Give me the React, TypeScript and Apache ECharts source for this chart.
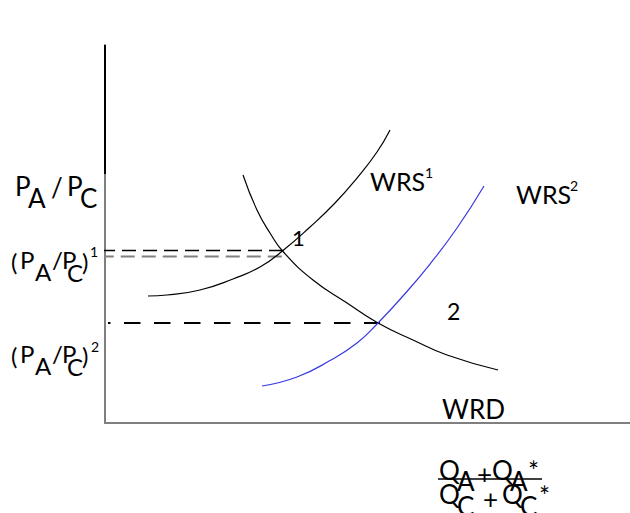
import React, { useEffect, useRef } from "react";
import * as echarts from "echarts";

// Curves (x = quantity ratio, y = price ratio, arbitrary units 0..10)
const wrs1: [number, number][] = [
  [0.819, 3.36], [1.181, 3.386], [1.81, 3.519], [2.438, 3.81], [2.952, 4.127],
  [3.39, 4.563], [3.905, 5.185], [4.381, 5.82], [4.8, 6.481], [5.181, 7.169], [5.429, 7.751],
];
const wrd: [number, number][] = [
  [2.629, 6.561], [2.895, 5.635], [3.143, 5.026], [3.39, 4.537], [3.962, 3.783],
  [4.61, 3.175], [5.2, 2.646], [5.867, 2.196], [6.514, 1.799], [7.486, 1.402],
];
const wrs2: [number, number][] = [
  [2.99, 0.979], [3.657, 1.217], [4.286, 1.653], [4.8, 2.116], [5.2, 2.646],
  [5.676, 3.36], [6.19, 4.206], [6.705, 5.159], [7.219, 6.27],
];
// equilibrium guide lines
const guide1: [number, number][] = [[-0.076, 4.563], [3.39, 4.563]];
const guide1b: [number, number][] = [[-0.1, 4.405], [3.43, 4.405]];
const guide2: [number, number][] = [[0.057, 2.646], [5.238, 2.646]];
const axisTop: [number, number][] = [[0, 6.587], [0, 10]];

const FONT = "Lato, 'Liberation Sans', sans-serif";

function T(text: string, x: number, baseline: number, size: number, color = "#000") {
  return {
    type: "text",
    x,
    y: baseline - 0.36 * size,
    silent: true,
    style: {
      text,
      font: `${size}px ${FONT}`,
      fill: color,
      align: "left",
      textAlign: "left",
      verticalAlign: "middle",
      textVerticalAlign: "middle",
    },
  };
}

export default function App() {
  const ref = useRef<HTMLDivElement>(null);
  useEffect(() => {
    if (!ref.current) return;
    const chart = echarts.init(ref.current, undefined, { renderer: "svg" });
    const line = (data: [number, number][], color: string, width: number, type: any = "solid", dashOffset = 0) => ({
      type: "line",
      data,
      smooth: true,
      symbol: "none",
      clip: false,
      silent: true,
      lineStyle: { color, width, type, dashOffset },
    });
    chart.setOption({
      animation: false,
      grid: { left: 105, top: 45, right: 0, bottom: 90, containLabel: false },
      xAxis: {
        type: "value", min: 0, max: 10,
        axisLine: { show: true, onZero: false, lineStyle: { color: "#7f7f7f", width: 2 } },
        axisTick: { show: false }, axisLabel: { show: false }, splitLine: { show: false },
      },
      yAxis: {
        type: "value", min: 0, max: 10,
        axisLine: { show: true, onZero: false, lineStyle: { color: "#7f7f7f", width: 2 } },
        axisTick: { show: false }, axisLabel: { show: false }, splitLine: { show: false },
      },
      series: [
        { ...line(axisTop, "#000", 2), smooth: false },
        { ...line(guide1, "#000", 1.5, [14, 7]), smooth: false },
        { ...line(guide1b, "#808080", 2, [14, 7]), smooth: false },
        { ...line(guide2, "#000", 2, [16.5, 13.5], 13.5), smooth: false },
        line(wrs1, "#000", 1.2),
        line(wrd, "#000", 1.2),
        line(wrs2, "#3838e0", 1.2),
      ],
      graphic: [
        T("P", 15, 195, 26), T("A", 28, 207, 26), T("/", 51, 196, 26), T("P", 67, 195, 26), T("C", 80, 207, 26),
        T("(", 11, 270, 24), T("P", 20, 268, 24), T("A", 35, 280, 24), T("/", 52, 268, 24), T("P", 62, 268, 24), T("C", 67, 281, 24), T(")", 82, 270, 24), T("1", 90, 257, 14),
        T("(", 11, 364, 24), T("P", 20, 362, 24), T("A", 35, 374, 24), T("/", 52, 362, 24), T("P", 62, 362, 24), T("C", 67, 375, 24), T(")", 82, 364, 24), T("2", 91, 352, 14),
        T("WRS", 370, 190, 25), T("1", 425, 178, 14),
        T("WRS", 516, 203, 25), T("2", 570, 191, 14),
        T("1", 292, 245, 22), T("2", 447, 319, 23),
        T("WRD", 442, 418, 26),
        T("Q", 439, 479, 26), T("A", 457, 490, 26), T("+", 477, 483, 26), T("Q", 492, 479, 26), T("A", 510, 490, 26), T("*", 528, 480, 26),
        { type: "line", silent: true, shape: { x1: 438, y1: 479, x2: 542, y2: 479 }, style: { stroke: "#000", lineWidth: 1.5 } },
        T("Q", 439, 503, 26), T("C", 457, 515, 26), T("+", 483, 508, 26), T("Q", 502, 503, 26), T("C", 520, 515, 26), T("*", 539, 505, 26),
      ],
    });
    return () => chart.dispose();
  }, []);
  return <div ref={ref} style={{ position: "absolute", left: 0, top: 0, width: 630, height: 513, background: "#fff" }} />;
}
